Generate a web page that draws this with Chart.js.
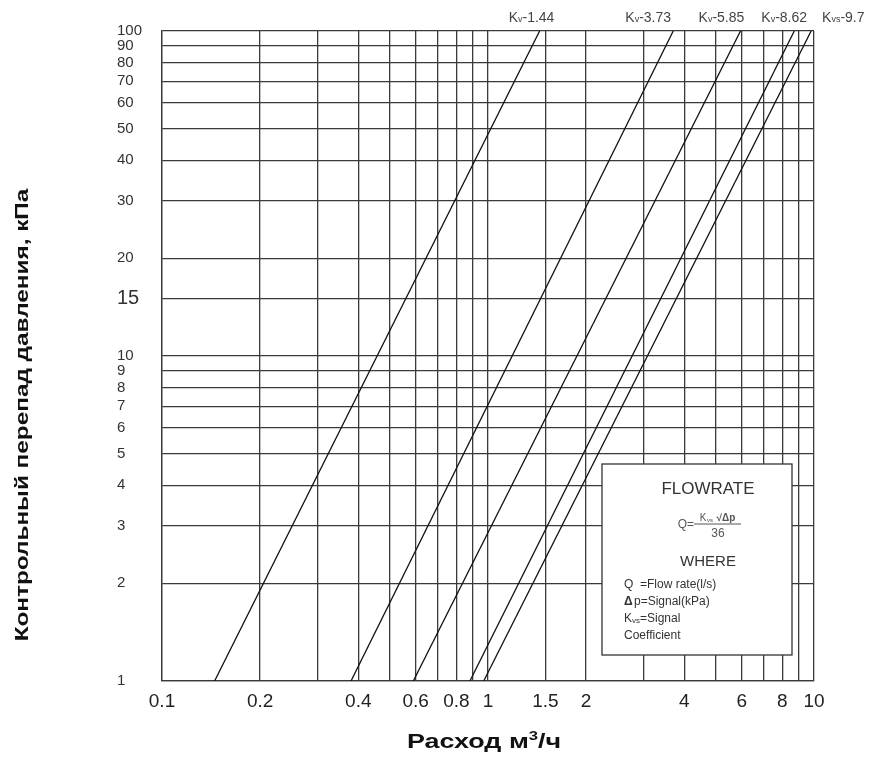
<!DOCTYPE html>
<html>
<head>
<meta charset="utf-8">
<script src="https://cdn.jsdelivr.net/npm/chart.js@4"></script>
<style>
  html, body { margin: 0; padding: 0; background: #fff; }
  #wrap { width: 871px; height: 760px; }
</style>
</head>
<body>
<div id="wrap"><canvas id="chartContainer"></canvas></div>
<script>
// flow (m3/h) at the bottom (1 kPa) and top (100 kPa) of each Kv line
const kvNames = ['1.44', '3.73', '5.85', '8.62', '9.7'];
const kvSubs = ['v', 'v', 'v', 'v', 'vs'];
const flowAt1kPa = [0.145, 0.38, 0.59, 0.88, 0.97];
const flowAt100kPa = [1.44, 3.7, 5.95, 8.7, 9.8];
const pressureEnds = [1, 100];

// grid lines and tick labels
const xGrid = [0.1, 0.2, 0.3, 0.4, 0.5, 0.6, 0.7, 0.8, 0.9, 1, 1.5, 2, 3, 4, 5, 6, 7, 8, 9, 10];
const xLabels = [0.1, 0.2, 0.4, 0.6, 0.8, 1, 1.5, 2, 4, 6, 8, 10];
const yGrid = [1, 2, 3, 4, 5, 6, 7, 8, 9, 10, 15, 20, 30, 40, 50, 60, 70, 80, 90, 100];
const yLabels = [1, 2, 3, 4, 5, 6, 7, 8, 9, 10, 15, 20, 30, 40, 50, 60, 70, 80, 90, 100];

// label centres above the plot (flow units)
const kvLabelAt = [1.36, 3.1, 5.2, 8.1, 12.3];

const gridColor = '#3a3a3a';
const FONT = '"Liberation Sans", Arial, sans-serif';

let datasets = kvNames.map((name, i) => ({
  label: 'Kv-' + name,
  data: [
    { x: flowAt1kPa[i], y: pressureEnds[0] },
    { x: flowAt100kPa[i], y: pressureEnds[1] }
  ],
  showLine: true,
  borderColor: '#111',
  borderWidth: 1.3,
  pointRadius: 0,
  fill: false
}));

// Kv labels, formula box and axis titles
const extras = {
  id: 'extras',
  afterDatasetsDraw(chart) {
    const ctx = chart.ctx;
    const xs = chart.scales.x;
    const a = chart.chartArea;
    ctx.save();
    ctx.fillStyle = '#444';
    ctx.textBaseline = 'middle';
    kvNames.forEach((name, i) => {
      const big = '14px ' + FONT;
      const small = '9px ' + FONT;
      ctx.font = big;
      const wK = ctx.measureText('K').width;
      const wR = ctx.measureText('-' + name).width;
      ctx.font = small;
      const wS = ctx.measureText(kvSubs[i]).width;
      let x = xs.getPixelForValue(kvLabelAt[i]) - (wK + wS + wR) / 2;
      const y = 18;
      ctx.textAlign = 'left';
      ctx.font = big;
      ctx.fillText('K', x, y);
      x += wK;
      ctx.font = small;
      ctx.fillText(kvSubs[i], x, y + 2);
      x += wS;
      ctx.font = big;
      ctx.fillText('-' + name, x, y);
    });

    // formula box
    const bx = a.left + 440, by = 464, bw = 190, bh = 191;
    ctx.fillStyle = '#fff';
    ctx.fillRect(bx, by, bw, bh);
    ctx.strokeStyle = '#333';
    ctx.lineWidth = 1.3;
    ctx.strokeRect(bx, by, bw, bh);

    ctx.fillStyle = '#333';
    ctx.textAlign = 'center';
    ctx.font = '17px ' + FONT;
    ctx.fillText('FLOWRATE', bx + 106, by + 25);

    ctx.fillStyle = '#555';
    ctx.font = '12px ' + FONT;
    ctx.textAlign = 'right';
    ctx.fillText('Q=', bx + 92, by + 61);
    ctx.beginPath();
    ctx.moveTo(bx + 92, by + 60);
    ctx.lineTo(bx + 139, by + 60);
    ctx.strokeStyle = '#555';
    ctx.lineWidth = 1;
    ctx.stroke();
    ctx.textAlign = 'center';
    ctx.font = '10px ' + FONT;
    ctx.fillText('K', bx + 101, by + 54);
    ctx.font = '6px ' + FONT;
    ctx.fillText('vs', bx + 108, by + 56);
    ctx.font = 'bold 10px ' + FONT;
    ctx.fillText('√Δp', bx + 124, by + 54);
    ctx.font = '12px ' + FONT;
    ctx.fillText('36', bx + 116, by + 70);

    ctx.fillStyle = '#333';
    ctx.font = '15px ' + FONT;
    ctx.fillText('WHERE', bx + 106, by + 98);

    ctx.textAlign = 'left';
    ctx.font = '12px ' + FONT;
    const tx = bx + 22;
    ctx.fillText('Q  =Flow rate(l/s)', tx, by + 121);
    ctx.font = 'bold 12px ' + FONT;
    ctx.fillText('Δ', tx, by + 138);
    ctx.font = '12px ' + FONT;
    ctx.fillText('p=Signal(kPa)', tx + 10, by + 138);
    ctx.fillText('K', tx, by + 155);
    ctx.font = '8px ' + FONT;
    ctx.fillText('vs', tx + 8, by + 157);
    ctx.font = '12px ' + FONT;
    ctx.fillText('=Signal', tx + 16, by + 155);
    ctx.fillText('Coefficient', tx, by + 172);

    // x axis title (wide bold face, superscript 3)
    ctx.fillStyle = '#111';
    ctx.textBaseline = 'alphabetic';
    ctx.textAlign = 'left';
    const stretch = 1.28;
    const partA = 'Расход м', partB = '/ч';
    ctx.font = 'bold 21px ' + FONT;
    const wA = ctx.measureText(partA).width;
    const wB = ctx.measureText(partB).width;
    ctx.font = 'bold 13px ' + FONT;
    const w3 = ctx.measureText('3').width;
    const total = (wA + w3 + wB) * stretch;
    ctx.save();
    ctx.translate(484 - total / 2, 748);
    ctx.scale(stretch, 1);
    ctx.font = 'bold 21px ' + FONT;
    ctx.fillText(partA, 0, 0);
    ctx.font = 'bold 13px ' + FONT;
    ctx.fillText('3', wA, -8);
    ctx.font = 'bold 21px ' + FONT;
    ctx.fillText(partB, wA + w3, 0);
    ctx.restore();

    // y axis title
    ctx.save();
    ctx.translate(28, 415);
    ctx.rotate(-Math.PI / 2);
    ctx.scale(1.28, 1);
    ctx.textAlign = 'center';
    ctx.font = 'bold 19px ' + FONT;
    ctx.fillText('Контрольный перепад давления, кПа', 0, 0);
    ctx.restore();
    ctx.restore();
  }
};

let chartContainer = document.getElementById('chartContainer').getContext('2d');
let chart = new Chart(chartContainer, {
  type: 'scatter',
  data: { datasets: datasets },
  plugins: [extras],
  options: {
    responsive: true,
    maintainAspectRatio: false,
    animation: false,
    layout: { padding: { left: 117, top: 31, right: 57, bottom: 0 } },
    plugins: {
      legend: { display: false },
      tooltip: { enabled: false }
    },
    scales: {
      x: {
        type: 'logarithmic',
        min: 0.1,
        max: 10,
        afterBuildTicks: (s) => { s.ticks = xGrid.map(v => ({ value: v })); },
        afterFit: (s) => { s.height = 79; },
        grid: { color: gridColor, lineWidth: 1.3, drawTicks: false },
        border: { color: gridColor, width: 1.3 },
        ticks: {
          autoSkip: false,
          maxRotation: 0,
          padding: 9,
          color: '#222',
          font: { size: 19, family: FONT },
          callback: (v) => xLabels.includes(v) ? String(v) : ''
        }
      },
      y: {
        type: 'logarithmic',
        min: 1,
        max: 100,
        afterBuildTicks: (s) => { s.ticks = yGrid.map(v => ({ value: v })); },
        afterFit: (s) => { s.width = 45; },
        grid: { color: gridColor, lineWidth: 1.3, drawTicks: false },
        border: { color: gridColor, width: 1.3 },
        ticks: {
          autoSkip: false,
          crossAlign: 'far',
          color: '#333',
          font: (c) => ({ size: c.tick && c.tick.value === 15 ? 20 : 15, family: FONT }),
          callback: (v) => yLabels.includes(v) ? String(v) : ''
        }
      }
    }
  }
});
</script>
</body>
</html>
